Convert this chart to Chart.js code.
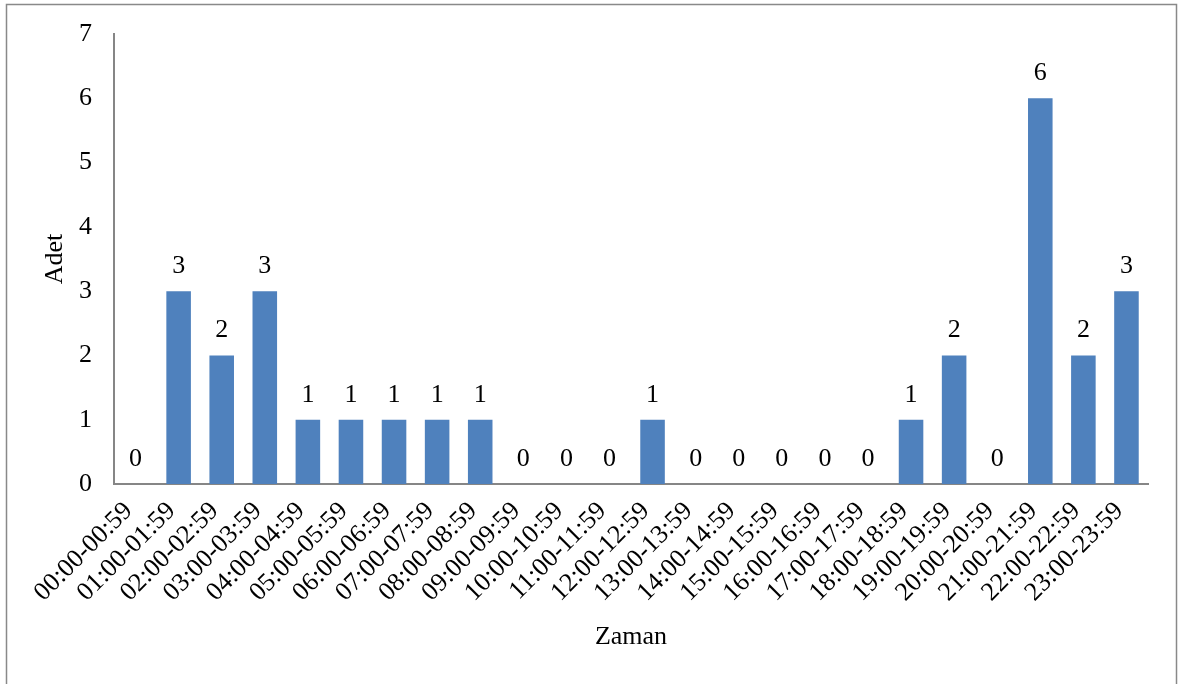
<!DOCTYPE html>
<html>
<head>
<meta charset="utf-8">
<script src="https://cdn.jsdelivr.net/npm/chart.js@4/dist/chart.umd.min.js"></script>
<style>
  html, body { margin: 0; padding: 0; background: #fff; }
  #wrap { width: 1178px; height: 684px; position: relative; }
</style>
</head>
<body>
<div id="wrap"><canvas id="c" width="1178" height="684"></canvas></div>
<script>
const categories = ["00:00-00:59","01:00-01:59","02:00-02:59","03:00-03:59","04:00-04:59","05:00-05:59","06:00-06:59","07:00-07:59","08:00-08:59","09:00-09:59","10:00-10:59","11:00-11:59","12:00-12:59","13:00-13:59","14:00-14:59","15:00-15:59","16:00-16:59","17:00-17:59","18:00-18:59","19:00-19:59","20:00-20:59","21:00-21:59","22:00-22:59","23:00-23:59"];
const counts = [0,3,2,3,1,1,1,1,1,0,0,0,1,0,0,0,0,0,1,2,0,6,2,3];
const yTicks = [0,1,2,3,4,5,6,7];
const xTitle = "Zaman";
const yTitle = "Adet";

const FONT = "'Liberation Serif', 'Times New Roman', serif";

const frame = {
  id: 'frame',
  beforeDraw(chart) {
    const ctx = chart.ctx;
    ctx.save();
    ctx.fillStyle = '#fff';
    ctx.fillRect(0, 0, chart.width, chart.height);
    ctx.strokeStyle = '#898989';
    ctx.lineWidth = 1.5;
    ctx.strokeRect(6.5, 4.5, 1170, 700);
    ctx.restore();
  }
};

const valueLabels = {
  id: 'valueLabels',
  afterDatasetsDraw(chart) {
    const ctx = chart.ctx;
    const meta = chart.getDatasetMeta(0);
    const data = chart.data.datasets[0].data;
    ctx.save();
    ctx.fillStyle = '#000';
    ctx.font = '26px ' + FONT;
    ctx.textAlign = 'center';
    ctx.textBaseline = 'middle';
    meta.data.forEach((el, i) => {
      ctx.fillText(String(data[i]), el.x, el.y - 25);
    });
    ctx.restore();
  }
};

new Chart(document.getElementById('c'), {
  type: 'bar',
  data: {
    labels: categories,
    datasets: [{
      data: counts,
      backgroundColor: '#4F81BD',
      borderWidth: 0,
      categoryPercentage: 1.0,
      barPercentage: 0.57
    }]
  },
  options: {
    responsive: false,
    animation: false,
    devicePixelRatio: 1,
    layout: { padding: { left: 0, top: 34, right: 30, bottom: 0 } },
    plugins: { legend: { display: false }, tooltip: { enabled: false } },
    scales: {
      x: {
        grid: { display: false, drawTicks: false },
        border: { display: true, color: '#868686', width: 2 },
        ticks: {
          color: '#000',
          font: { family: FONT, size: 26 },
          minRotation: 45, maxRotation: 45,
          autoSkip: false,
          padding: 12,
          labelOffset: -7
        },
        title: {
          display: true, text: xTitle, color: '#000',
          font: { family: FONT, size: 26 },
          padding: { top: 0, bottom: 31 }
        },
        afterFit(scale) { scale.height = 200; }
      },
      y: {
        min: 0, max: 7,
        grid: { display: false, drawTicks: false },
        border: { display: true, color: '#868686', width: 2 },
        afterBuildTicks(scale) { scale.ticks = yTicks.map(v => ({ value: v })); },
        ticks: {
          color: '#000',
          font: { family: FONT, size: 26 },
          padding: 22
        },
        title: {
          display: true, text: yTitle, color: '#000',
          font: { family: FONT, size: 26 },
          padding: { top: 40, bottom: 0 }
        },
        afterFit(scale) {
          scale.width = 114;
          scale.paddingTop = 10;
          scale.paddingBottom = 10;
        }
      }
    }
  },
  plugins: [frame, valueLabels]
});
</script>
</body>
</html>
